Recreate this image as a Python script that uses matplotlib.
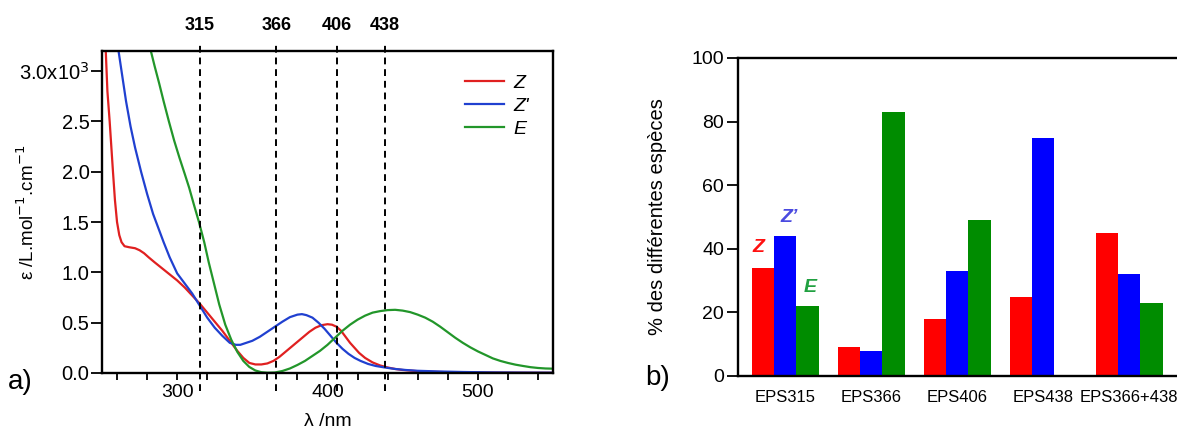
import numpy as np
import matplotlib
matplotlib.use("Agg")
import matplotlib.pyplot as plt

plt.rcParams['font.family'] = ['Liberation Sans', 'DejaVu Sans']

# ---------------- Data: absorption spectra (x1e3 L.mol-1.cm-1) ----------------
z_wl = [252.5, 253.6, 255.1, 256.2, 257.3, 258.6, 260, 261.5, 263, 265, 268, 272, 275, 278, 281, 285,
        290, 295, 300, 305, 310, 315, 320, 325, 330, 335, 340, 344, 348, 352, 356, 360, 364, 368,
        372, 376, 380, 384, 388, 392, 396, 400, 403, 406, 409, 412, 415, 418, 421, 425, 430, 435,
        440, 445, 450, 460, 470, 480, 500, 525, 550]
z_eps = [3.2, 2.8, 2.5, 2.25, 2.0, 1.72, 1.5, 1.37, 1.3, 1.26, 1.25, 1.24, 1.22, 1.19, 1.15, 1.10,
         1.04, 0.98, 0.92, 0.85, 0.77, 0.69, 0.60, 0.51, 0.42, 0.32, 0.22, 0.15, 0.10, 0.085, 0.085,
         0.095, 0.12, 0.16, 0.21, 0.26, 0.31, 0.36, 0.41, 0.45, 0.475, 0.485, 0.48, 0.46, 0.42, 0.36,
         0.30, 0.25, 0.20, 0.15, 0.105, 0.075, 0.055, 0.04, 0.03, 0.018, 0.012, 0.008, 0.005, 0.003, 0.002]

zp_wl = [261, 263.5, 266, 269, 272, 276, 280, 284, 287.5, 291, 295, 300, 305, 310, 315, 320, 325,
         330, 335, 339, 342, 346, 350, 355, 360, 365, 370, 375, 380, 383, 386, 390, 394, 398, 402,
         406, 410, 414, 418, 422, 427, 432, 438, 445, 452, 460, 475, 490, 510, 530, 550]
zp_eps = [3.2, 2.95, 2.7, 2.45, 2.24, 2.0, 1.78, 1.58, 1.44, 1.3, 1.15, 0.99, 0.89, 0.79, 0.67, 0.55,
          0.45, 0.37, 0.30, 0.28, 0.28, 0.30, 0.32, 0.36, 0.41, 0.46, 0.51, 0.555, 0.58, 0.585, 0.575,
          0.55, 0.50, 0.44, 0.37, 0.30, 0.24, 0.19, 0.15, 0.12, 0.09, 0.07, 0.055, 0.04, 0.03, 0.022,
          0.015, 0.01, 0.006, 0.004, 0.003]

e_wl = [282.5, 285, 288, 291, 294.5, 298, 301.5, 305, 308, 311, 314.5, 318, 321, 324.5, 328, 332,
        336, 340, 344, 348, 352, 356, 360, 365, 370, 375, 380, 385, 390, 395, 400, 405, 410, 415,
        420, 425, 430, 435, 440, 445, 450, 455, 460, 465, 470, 475, 480, 485, 490, 495, 500, 505,
        510, 515, 520, 525, 530, 535, 540, 545, 550]
e_eps = [3.2, 3.05, 2.88, 2.7, 2.5, 2.31, 2.14, 1.98, 1.84, 1.68, 1.5, 1.3, 1.1, 0.89, 0.68, 0.48,
         0.33, 0.21, 0.12, 0.06, 0.025, 0.008, 0.003, 0.005, 0.02, 0.045, 0.08, 0.12, 0.17, 0.22,
         0.28, 0.35, 0.42, 0.48, 0.53, 0.57, 0.60, 0.615, 0.625, 0.628, 0.62, 0.605, 0.58, 0.55,
         0.51, 0.46, 0.405, 0.35, 0.30, 0.255, 0.215, 0.18, 0.145, 0.12, 0.10, 0.083, 0.07, 0.058,
         0.05, 0.045, 0.043]

irr_wl = [315, 366, 406, 438]

# ---------------- Data: species percentages ----------------
groups = ['EPS315', 'EPS366', 'EPS406', 'EPS438', 'EPS366+438']
pct_Z = [34, 9, 18, 25, 45]
pct_Zp = [44, 8, 33, 75, 32]
pct_E = [22, 83, 49, 0, 23]

RED, BLUE, GREEN = '#e02020', '#2040d0', '#22962a'

W, H = 1177, 426
fig = plt.figure(figsize=(W / 100, H / 100), dpi=100)

# ---------------- Panel a ----------------
ax1 = fig.add_axes([102 / W, 1 - 373 / H, 451 / W, 322 / H])
for wl, ep, c, lab in [(z_wl, z_eps, RED, 'Z'), (zp_wl, zp_eps, BLUE, "Z'"), (e_wl, e_eps, GREEN, 'E')]:
    ax1.plot(wl, ep, color=c, lw=1.6, label=lab, solid_joinstyle='round')
ax1.set_xlim(250, 550)
ax1.set_ylim(0, 3.2)
ax1.set_xticks([300, 400, 500])
ax1.set_xticks(np.arange(260, 551, 20), minor=True)
ax1.set_yticks([0, 0.5, 1.0, 1.5, 2.0, 2.5, 3.0])
ax1.set_yticklabels(['0.0', '0.5', '1.0', '1.5', '2.0', '2.5', r'3.0x10$^{3}$'])
ax1.tick_params(axis='y', which='major', direction='out', length=8, width=1.3, labelsize=14.5, pad=1)
ax1.tick_params(axis='x', which='major', direction='out', length=5, width=1.3, labelsize=14, pad=3)
ax1.tick_params(axis='x', which='minor', direction='out', length=5, width=1.3)
for s in ax1.spines.values():
    s.set_linewidth(1.7)
ax1.set_xlabel('λ /nm', fontsize=14)
ax1.xaxis.set_label_coords(0.5, -0.125)
ax1.set_ylabel(r'ε /L.mol$^{-1}$.cm$^{-1}$', fontsize=13.5)
ax1.yaxis.set_label_coords(-(102 - 38) / 451, 0.5)
for w in irr_wl:
    ax1.axvline(w, ymin=-0.056, ymax=1.031, color='black', ls=(0, (3.5, 2.5)), lw=1.4, clip_on=False)
    ax1.text(w, 1.079, str(w), transform=ax1.get_xaxis_transform(), ha='center', va='center',
             fontsize=13, fontweight='bold')
ax1.legend(loc='upper right', frameon=False, handlelength=2.0, handletextpad=0.5,
           bbox_to_anchor=(0.978, 0.97), labelspacing=0.28, borderaxespad=0.3,
           prop={'style': 'italic', 'size': 14})
fig.text(8 / W, 1 - 382 / H, 'a)', fontsize=20, va='center', ha='left')

# ---------------- Panel b ----------------
ax2 = fig.add_axes([738 / W, 1 - 376 / H, 460 / W, 318 / H])
x = np.arange(len(groups))
bw = 0.26
ax2.bar(x - bw, pct_Z, bw, color='#ff0000')
ax2.bar(x, pct_Zp, bw, color='#0000ff')
ax2.bar(x + bw, pct_E, bw, color='#008c00')
ax2.set_xlim(-0.547, 4.8)
ax2.set_ylim(0, 100)
ax2.set_xticks(x)
ax2.set_xticklabels(groups, fontsize=12)
ax2.set_yticks([0, 20, 40, 60, 80, 100])
ax2.tick_params(axis='x', length=0, pad=10)
ax2.tick_params(axis='y', direction='out', length=8, width=1.3, labelsize=14, pad=2)
ax2.spines['right'].set_visible(False)
for s in ['left', 'top', 'bottom']:
    ax2.spines[s].set_linewidth(1.7)
ax2.set_ylabel('% des différentes espèces', fontsize=14.5)
ax2.yaxis.set_label_coords(-(738 - 667) / 460, 0.5)
ax2.text(x[0] - bw * 1.2, pct_Z[0] + 6.3, 'Z', color='#ff1010', fontsize=14, fontweight='bold',
         style='italic', ha='center', va='center')
ax2.text(x[0] + 0.05, pct_Zp[0] + 5.7, 'Z’', color='#4a4ae0', fontsize=14, fontweight='bold',
         style='italic', ha='center', va='center')
ax2.text(x[0] + bw * 1.1, pct_E[0] + 5.7, 'E', color='#20a040', fontsize=14, fontweight='bold',
         style='italic', ha='center', va='center')
fig.text(645 / W, 1 - 378 / H, 'b)', fontsize=20, va='center', ha='left')

fig.savefig('out.png', dpi=100)
